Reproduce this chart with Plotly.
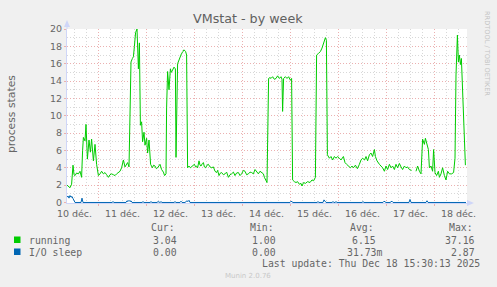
import pandas as pd
import plotly.graph_objects as go

# ---------------- data ----------------
START = "2025-12-10 08:15"
END = "2025-12-18 16:15"

running_hours = [
    0.0, 0.7, 1.5, 2.3, 3.0, 3.5, 4.0, 4.8, 5.7, 6.5, 7.3, 7.8, 8.2, 9.0, 9.5, 10.2, 11.0, 11.7, 12.3, 13.2,
    14.0, 14.8, 15.7, 16.5, 17.3, 18.2, 19.0, 19.8, 20.7, 21.5, 22.3, 23.2, 24.0, 24.8, 25.7, 26.5, 27.3, 28.2,
    29.0, 29.7, 30.3, 31.0, 32.0, 32.7, 33.2, 33.7, 34.3, 35.0, 35.3, 35.7, 36.2, 36.7, 37.3, 37.8, 38.5, 39.0,
    39.8, 40.3, 41.0, 41.8, 42.7, 43.3, 44.0, 44.7, 45.3, 46.0, 46.5, 47.3, 48.2, 48.8, 49.5, 49.8, 50.3, 51.0,
    51.7, 52.2, 52.7, 53.5, 54.2, 54.5, 55.3, 56.0, 56.5, 57.3, 58.0, 58.5, 59.3, 59.8, 60.3, 61.0, 61.7, 62.3,
    63.0, 63.7, 64.3, 64.8, 65.3, 66.0, 66.5, 67.0, 67.7, 68.2, 68.7, 69.3, 70.0, 70.7, 71.5, 72.3, 73.2, 74.0,
    74.8, 75.3, 76.0, 76.7, 77.3, 78.2, 79.0, 79.8, 80.7, 81.5, 82.3, 83.2, 84.0, 84.8, 85.7, 86.5, 87.3, 88.2,
    89.0, 89.8, 90.7, 91.5, 92.3, 93.2, 94.0, 94.8, 95.7, 96.5, 97.3, 98.2, 98.7, 99.5, 100.0,
    100.8, 101.5, 102.0, 102.8, 103.7, 104.5, 105.3, 106.2, 107.0, 107.5, 107.8, 108.3, 109.2, 110.0, 110.8,
    111.7, 112.3, 112.8, 113.7, 114.5, 115.3, 116.2, 117.0, 117.5, 118.3, 119.2, 120.3, 121.5, 122.5, 123.3,
    124.2, 124.8, 125.8, 126.7, 127.5, 128.3, 129.2, 129.7, 130.2, 131.2, 132.0, 132.8, 133.7, 134.5, 135.3,
    136.2, 137.0, 138.2, 139.0, 139.8, 140.8, 141.7, 142.5, 143.2, 144.2, 145.2, 146.2, 147.0, 147.8, 148.8,
    149.5, 150.3, 151.2, 152.0, 152.8, 153.7, 154.2, 155.0, 156.2, 157.0, 157.8, 158.7, 159.5, 160.3, 161.2,
    162.0, 162.8, 163.7, 164.5, 165.3, 166.2, 167.0, 167.8, 168.7, 169.5, 170.3, 171.2, 172.3, 173.3, 174.5,
    175.3, 176.2, 177.0, 177.8, 178.7, 179.2, 180.0, 180.7, 181.2, 182.0, 182.8, 183.3, 184.0, 184.8, 185.7,
    186.2, 187.0, 187.8, 188.7, 189.5, 190.3, 191.2, 192.3, 193.3, 194.0, 194.5, 195.2, 195.7, 196.2, 196.7,
    197.2, 197.8, 198.5, 199.2,
]
running_vals = [
    2.0, 1.9, 1.7, 2.1, 4.3, 3.2, 3.1, 3.4, 3.3, 3.6, 2.9, 6.0, 7.5, 7.1, 9.0, 5.0, 7.2, 5.8, 7.3, 4.8,
    6.7, 4.4, 3.1, 3.3, 3.6, 3.3, 3.45, 3.2, 2.9, 3.2, 3.3, 3.2, 3.1, 3.3, 3.45, 3.6, 4.0, 4.9,
    4.1, 4.3, 4.6, 4.1, 16.2, 16.6, 16.8, 18.0, 19.6, 20.0, 17.5, 15.4, 18.4, 8.9, 9.3, 7.0, 8.1, 6.6,
    7.4, 5.7, 7.2, 4.4, 4.0, 4.3, 4.2, 3.9, 4.0, 4.2, 4.4, 3.8, 3.5, 3.1, 3.3, 10.9, 15.1, 13.0,
    15.4, 15.0, 15.2, 15.6, 15.4, 5.2, 16.0, 16.5, 16.8, 17.2, 17.4, 17.6, 17.4, 17.0, 4.0, 4.2, 4.0, 4.1,
    4.3, 4.4, 4.1, 4.2, 4.0, 4.8, 4.3, 4.2, 4.5, 4.6, 4.1, 4.0, 4.3, 4.4, 4.1, 4.0, 4.1, 3.6,
    3.45, 3.7, 3.1, 3.4, 3.45, 3.2, 3.3, 3.5, 2.9, 3.2, 3.3, 3.5, 3.1, 3.4, 3.45, 3.1, 3.3, 3.7,
    3.6, 3.2, 3.3, 3.5, 3.45, 3.3, 3.8, 3.5, 3.3, 3.6, 3.45, 3.3, 2.9, 2.5, 2.3,
    14.3, 14.4, 14.3, 14.5, 14.2, 14.3, 14.6, 14.3, 14.5, 14.2, 10.5, 14.3, 14.5, 14.3, 14.5,
    14.1, 14.3, 2.6, 2.4, 2.3, 2.4, 2.1, 2.2, 1.9, 2.3, 2.2, 2.4, 2.3, 2.6, 2.5,
    2.9, 17.0, 17.2, 17.4, 17.8, 18.4, 19.0, 18.7, 5.5, 5.1, 5.3, 4.9, 5.3, 5.1, 5.3,
    5.1, 4.9, 5.3, 4.6, 4.4, 4.2, 4.0, 4.2, 4.0, 4.3, 3.9, 4.4, 4.9, 5.1, 4.9,
    5.3, 4.8, 5.5, 5.7, 5.3, 6.1, 5.3, 4.8, 4.4, 4.2, 4.0, 3.6, 4.2, 3.8, 4.4,
    4.0, 4.2, 3.8, 4.4, 4.0, 4.5, 4.1, 3.8, 4.2, 4.0, 4.1, 3.8, 3.7, None, 3.6,
    4.2, 3.6, 3.3, 7.3, 6.7, 7.4, 6.7, 6.1, 4.0, 4.2, 3.6, 6.1, 3.45, 3.1, 3.6,
    2.9, 3.3, 4.0, 3.1, 2.6, 3.6, 3.3, 3.3, 3.45, 5.1, 14.7, 19.3, 16.2, 17.0, 15.9,
    16.6, 12.8, 8.0, 4.3,
]

iosleep_hours = [
    0.0, 0.5, 1.0, 1.5, 2.0, 2.5, 3.0, 3.5, 4.0, 7.0, 7.5, 8.0,
    22.5, 23.0, 23.5, 29.5, 30.0, 30.5, 31.0, 31.5, 32.0, 32.5,
    37.5, 38.0, 38.5, 41.5, 42.0, 42.5, 45.0, 45.5, 46.0, 46.5, 47.0, 47.5,
    53.5, 54.0, 54.5, 56.5, 57.0, 57.5, 59.0, 59.5, 60.0, 60.5, 61.0, 61.5,
    111.5, 112.0, 112.5, 113.0, 125.0, 125.5, 126.0, 128.0, 128.5, 129.0, 129.5,
    132.5, 133.0, 133.5, 134.0, 134.5, 135.0, 147.5, 148.0, 148.5,
    158.0, 158.5, 159.0, 159.5, 161.5, 162.0, 162.5, 163.0,
    171.0, 171.5, 172.0, 179.5, 180.0, 180.5, 199.5,
]
iosleep_vals = [
    0.6, 0.75, 0.5, 0.8, 0.6, 0.7, 0.45, 0.2, 0.0, 0.0, 0.5, 0.0,
    0.0, 0.1, 0.0, 0.0, 0.2, 0.1, 0.25, 0.1, 0.2, 0.0,
    0.0, 0.1, 0.0, 0.0, 0.1, 0.0, 0.0, 0.1, 0.0, 0.0, 0.1, 0.0,
    0.0, 0.1, 0.0, 0.0, 0.15, 0.0, 0.0, 0.1, 0.2, 0.1, 0.25, 0.0,
    0.0, 0.15, 0.1, 0.0, 0.0, 0.1, 0.0, 0.0, 0.3, 0.15, 0.0,
    0.0, 0.1, 0.0, 0.0, 0.1, 0.0, 0.0, 0.1, 0.0,
    0.0, 0.15, 0.1, 0.0, 0.0, 0.1, 0.15, 0.0,
    0.0, 0.35, 0.0, 0.0, 0.2, 0.0, 0.0,
]

series_names = ["running", "I/O sleep"]
series_colors = ["#00CC00", "#0066B3"]
stat_headers = ["Cur:", "Min:", "Avg:", "Max:"]
stat_cur = ["3.04", "0.00"]
stat_min = ["1.00", "0.00"]
stat_avg = ["6.15", "31.73m"]
stat_max = ["37.16", "2.87"]

title = "VMstat - by week"
y_title = "process states"
last_update = "Last update: Thu Dec 18 15:30:13 2025"
footer = "Munin 2.0.76"
watermark = "RRDTOOL / TOBI OETIKER"

# ---------------- figure ----------------
W, H = 497, 287
PL, PR, PT, PB = 67, 467, 29, 203


def px(x):
    return (x - PL) / (PR - PL)


def py(y):
    return (PB - y) / (PB - PT)


t0 = pd.Timestamp(START)
run_x = t0 + pd.to_timedelta(running_hours, unit="h")
io_x = t0 + pd.to_timedelta(iosleep_hours, unit="h")

FONT = "DejaVu Sans"
MONO = "DejaVu Sans Mono"
FC = "#666666"
MGRID = "#EBB0B0"
GRID = "#D8D8D8"

fig = go.Figure()
fig.add_trace(go.Scatter(x=run_x, y=running_vals, mode="lines", connectgaps=False,
                         line=dict(color=series_colors[0], width=1), name=series_names[0]))
fig.add_trace(go.Scatter(x=io_x, y=iosleep_vals, mode="lines",
                         line=dict(color=series_colors[1], width=1), name=series_names[1]))

fig.update_layout(
    width=W, height=H,
    margin=dict(l=PL, r=W - PR, t=PT, b=H - PB, pad=0),
    paper_bgcolor="#F0F0F0", plot_bgcolor="#FFFFFF",
    showlegend=False,
    font=dict(family=FONT, color=FC, size=9.5),
)

fig.update_xaxes(
    type="date", range=[START, END],
    tick0="2025-12-10", dtick=86400000, ticklabelmode="period", tickformat="%d déc.",
    tickfont=dict(family=FONT, size=9.5, color=FC),
    showgrid=True, gridcolor=MGRID, griddash="1px,2px", gridwidth=1,
    ticks="outside", ticklen=2, tickcolor=MGRID,
    minor=dict(dtick=6 * 3600000, tick0="2025-12-10", showgrid=True,
               gridcolor=GRID, griddash="1px,2px", ticks=""),
    showline=True, linecolor="#CFD6F8", linewidth=1,
    zeroline=False, layer="below traces", fixedrange=True,
)
fig.update_yaxes(
    range=[-0.06, 20], dtick=2, tick0=0,
    tickfont=dict(family=FONT, size=9.5, color=FC),
    showgrid=True, gridcolor=MGRID, griddash="1px,2px", gridwidth=1,
    ticks="outside", ticklen=2, tickcolor=MGRID,
    minor=dict(dtick=1, showgrid=True, gridcolor=GRID, griddash="1px,2px", ticks=""),
    showline=True, linecolor="#CFD6F8", linewidth=1,
    zeroline=False, layer="below traces", fixedrange=True,
)

shapes = []
# axis arrows
shapes.append(dict(type="line", xref="paper", yref="paper", x0=0, x1=0, y0=1, y1=py(23),
                   line=dict(color="#CFD6F8", width=1)))
shapes.append(dict(type="path", xref="paper", yref="paper",
                   path=f"M {px(64)} {py(27)} L {px(70)} {py(27)} L {px(67)} {py(20)} Z",
                   fillcolor="#CFD6F8", line=dict(width=0)))
shapes.append(dict(type="path", xref="paper", yref="paper",
                   path=f"M {px(467)} {py(200)} L {px(467)} {py(206)} L {px(474)} {py(203)} Z",
                   fillcolor="#CFD6F8", line=dict(width=0)))
# legend squares
for i, c in enumerate(series_colors):
    yc = 240 + 12 * i
    shapes.append(dict(type="rect", xref="paper", yref="paper",
                       x0=px(14), x1=px(20.5), y0=py(yc + 3), y1=py(yc - 3.5),
                       fillcolor=c, line=dict(width=0)))
fig.update_layout(shapes=shapes)

ann = []
ann.append(dict(text=title, x=px(248), y=py(19), xref="paper", yref="paper", showarrow=False,
                xanchor="center", yanchor="middle", font=dict(family=FONT, size=12.7, color="#606060")))
ann.append(dict(text=y_title, x=px(11), y=py(114), xref="paper", yref="paper", showarrow=False,
                textangle=-90, xanchor="center", yanchor="middle",
                font=dict(family=FONT, size=10.8, color=FC)))
ann.append(dict(text=watermark, x=px(487), y=py(53), xref="paper", yref="paper", showarrow=False,
                textangle=90, xanchor="center", yanchor="middle",
                font=dict(family=FONT, size=6.6, color="#C4C4C4")))

col_x = [149, 248, 348, 447]
for h, x in zip(stat_headers, col_x):
    ann.append(dict(text=h, x=px(x), y=py(227), xref="paper", yref="paper", showarrow=False,
                    xanchor="left", yanchor="middle", font=dict(family=MONO, size=9.8, color=FC)))

mono_w = 5.95
for i, name in enumerate(series_names):
    yc = 240 + 12 * i
    ann.append(dict(text=name, x=px(27), y=py(yc), xref="paper", yref="paper", showarrow=False,
                    xanchor="left", yanchor="middle", font=dict(family=MONO, size=9.8, color=FC)))
    # right edges of the numeric columns (suffix column included)
    for vals, right in zip([stat_cur, stat_min, stat_avg, stat_max], [185, 284, 384, 483]):
        v = vals[i]
        if not v[-1].isalpha():
            right_edge = right - mono_w
        else:
            right_edge = right
        ann.append(dict(text=v, x=px(right_edge), y=py(yc), xref="paper", yref="paper",
                        showarrow=False, xanchor="right", yanchor="middle",
                        font=dict(family=MONO, size=9.8, color=FC)))

ann.append(dict(text=last_update, x=px(482), y=py(263), xref="paper", yref="paper", showarrow=False,
                xanchor="right", yanchor="middle", font=dict(family=MONO, size=9.8, color=FC)))
ann.append(dict(text=footer, x=px(248), y=py(276), xref="paper", yref="paper", showarrow=False,
                xanchor="center", yanchor="middle", font=dict(family=FONT, size=7, color="#C8C8C8")))
fig.update_layout(annotations=ann)

fig.write_html("out.html", config={"displayModeBar": False})
